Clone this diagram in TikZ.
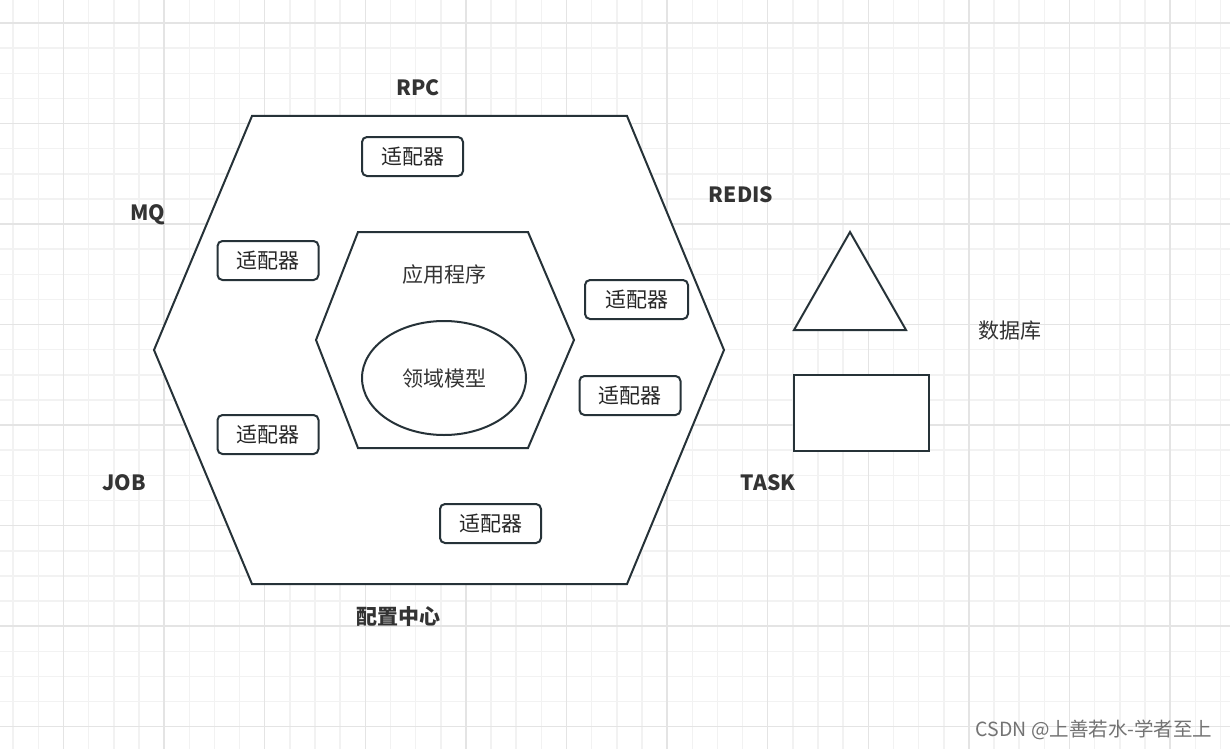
\documentclass[tikz,border=0pt]{standalone}
\usepackage{fontspec}
\setmainfont{Noto Sans CJK SC}
\usepackage{tikz}
\usetikzlibrary{positioning}

\definecolor{inkline}{HTML}{263238}
\definecolor{gridminor}{HTML}{F2F2F2}
\definecolor{gridmajor}{HTML}{E4E4E4}

\tikzset{
  shapeline/.style={line width=2pt, color=inkline, line join=miter},
  adapter/.style={draw=inkline, line width=2pt, rounded corners=5pt, fill=white,
    minimum width=101pt, minimum height=39pt, inner sep=0pt,
    font=\fontsize{21}{25}\selectfont, text=black!85},
  sidelabel/.style={font=\fontsize{21}{25}\selectfont\bfseries, text=black!80},
  plaintext/.style={font=\fontsize{21}{25}\selectfont, text=black!80}
}

\begin{document}
\begin{tikzpicture}[x=1pt, y=-1pt]
  \useasboundingbox (0,0) rectangle (1230,749);
  \fill[white] (0,0) rectangle (1230,749);
  % grid paper
  \foreach \i in {0,...,49} {
    \draw[gridminor, line width=1.5pt] ({13.2+25.15*\i},0) -- ({13.2+25.15*\i},749);
  }
  \foreach \j in {0,...,30} {
    \draw[gridminor, line width=1.5pt] (0,{-2.1+25.13*\j}) -- (1230,{-2.1+25.13*\j});
  }
  \foreach \i in {0,...,11} {
    \draw[gridmajor, line width=1.5pt] ({63.5+100.6*\i},0) -- ({63.5+100.6*\i},749);
  }
  \foreach \j in {0,...,7} {
    \draw[gridmajor, line width=1.5pt] (0,{23+100.5*\j}) -- (1230,{23+100.5*\j});
  }

  % outer hexagon
  \draw[shapeline, fill=white] (252,116) -- (627,116) -- (724,350) -- (627,584)
    -- (252,584) -- (154,350) -- cycle;
  % inner hexagon
  \draw[shapeline] (358,232) -- (528,232) -- (574,340) -- (528,448)
    -- (358,448) -- (316,340) -- cycle;
  \draw[shapeline] (444,378) ellipse [x radius=82, y radius=57];

  \node[plaintext] (app) at (444,275) {应用程序};
  \node[plaintext] (domain) at (444,379) {领域模型};

  % adapters
  \node[adapter] (adtop) at (412.5,156.5) {适配器};
  \node[adapter] (adleftup) at (268,260.5) {适配器};
  \node[adapter, minimum width=103pt] (adrightup) at (636.5,299.5) {适配器};
  \node[adapter] (adrightdown) at (630,395.5) {适配器};
  \node[adapter] (adleftdown) at (268,434.5) {适配器};
  \node[adapter] (adbottom) at (490.5,523.5) {适配器};

  % side labels
  \node[sidelabel] (rpc) at (418,88) {RPC};
  \node[sidelabel] (mq) at (148,215) {MQ};
  \node[sidelabel] (redis) at (741,195) {REDIS};
  \node[sidelabel] (job) at (124,483) {JOB};
  \node[sidelabel] (task) at (768,483) {TASK};
  \node[sidelabel] (config) at (398,617) {配置中心};

  % database
  \draw[shapeline, fill=white] (794,330) -- (850,232) -- (906,330) -- cycle;
  \draw[shapeline, fill=white] (794,375) rectangle (929,451);
  \node[plaintext] (db) at (1010,331) {数据库};

  \node[font=\fontsize{19.5}{23}\selectfont, text=black!55, anchor=east] (mark)
    at (1216,730) {CSDN @上善若水-学者至上};
\end{tikzpicture}
\end{document}
